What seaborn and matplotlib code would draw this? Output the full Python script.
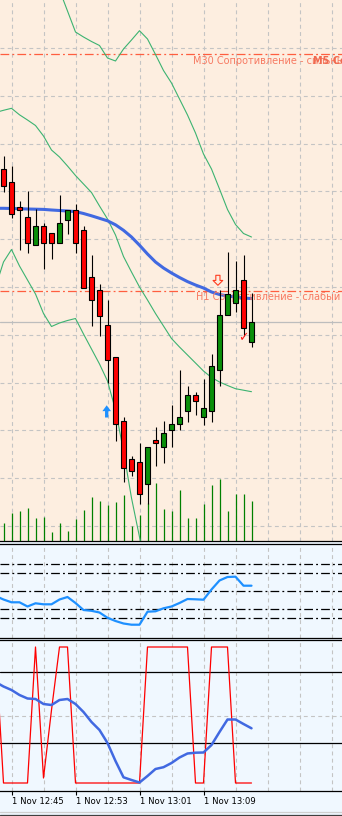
import numpy as np
import pandas as pd
import matplotlib
matplotlib.use("Agg")
import matplotlib.pyplot as plt
import seaborn as sns
from matplotlib.lines import Line2D

# ---------------- data (price scale in chart points, axis inverted) ----------------
bar_index = list(range(32))
opens = [169.3, 182.3, 207.0, 217.3, 245.3, 226.0, 233.3, 242.7, 220.3, 210.3, 230.0, 277.0,
         290.3, 325.3, 357.3, 421.3, 459.3, 462.3, 484.3, 440.0, 446.7, 430.3, 424.3, 411.3,
         395.3, 417.3, 411.3, 370.3, 315.3, 303.3, 280.3, 341.7]
closes = [185.7, 214.3, 210.3, 242.7, 226.0, 242.7, 242.7, 223.3, 210.3, 242.7, 287.7, 300.3,
          315.7, 360.3, 424.3, 468.3, 471.3, 494.3, 446.7, 443.3, 433.3, 424.3, 417.3, 395.3,
          401.3, 408.3, 366.3, 315.0, 293.7, 290.3, 328.3, 322.3]
highs = [156.0, 166.0, 201.0, 191.0, 208.7, 223.3, 233.3, 195.0, 210.3, 204.0, 226.0, 255.0,
         284.3, 300.0, 357.3, 417.3, 456.0, 443.3, 446.7, 427.3, 421.0, 405.0, 370.0, 386.0,
         392.3, 379.0, 354.0, 290.0, 252.3, 261.3, 255.3, 293.3]
lows = [191.7, 217.7, 250.0, 252.7, 245.3, 268.7, 258.7, 242.7, 233.7, 252.7, 287.7, 325.7,
        335.7, 382.7, 440.7, 481.7, 475.7, 503.7, 503.7, 465.7, 462.7, 446.7, 430.3, 421.7,
        414.7, 424.7, 421.7, 386.3, 315.3, 312.3, 335.7, 347.3]
volumes = [18.3, 28.3, 30.3, 33.0, 23.0, 24.0, 9.0, 18.3, 10.0, 22.0, 31.0, 44.0, 40.0, 36.0,
           39.0, 46.0, 15.0, 26.0, 37.7, 58.0, 32.0, 30.0, 51.0, 23.0, 23.0, 37.0, 56.0, 62.0,
           30.0, 47.0, 47.0, 40.0]

line_index = list(range(-1, 32))
ma_line = [208.3, 208.3, 208.5, 208.7, 209.0, 209.2, 209.4, 210.0, 210.5, 211.0, 211.6, 213.5,
           215.8, 218.3, 220.8, 224.8, 230.3, 237.0, 245.2, 254.0, 262.0, 268.0, 273.0, 277.5,
           281.6, 285.0, 288.0, 292.0, 294.5, 296.0, 297.0, 298.0, 298.6]
nan = np.nan
band_upper = [nan, nan, nan, nan, nan, nan, nan, -40.0, -10.0, 11.0, 32.0, 37.0, 41.5, 45.5,
              58.0, 61.0, 49.0, 40.0, 30.7, 39.0, 54.5, 70.5, 83.0, 99.0, 115.0, 133.0, 154.0,
              169.0, 189.0, 209.5, 224.5, 233.5, 237.0]
band_mid = [112.5, 110.3, 108.3, 114.8, 120.0, 125.5, 136.0, 150.0, 157.0, 166.0, 175.5, 184.0,
            192.5, 206.0, 219.0, 235.0, 256.5, 272.0, 287.0, 300.0, 313.5, 326.0, 338.5, 347.0,
            355.0, 363.0, 371.0, 377.5, 382.0, 385.5, 388.7, 390.2, 391.7]
band_lower = [287.0, 262.0, 249.5, 266.0, 280.0, 294.0, 313.5, 326.5, 323.0, 320.5, 318.5, 334.0,
              349.0, 364.0, 381.0, 410.0, 451.0, 498.0, 537.0, 575.0, nan, nan, nan, nan, nan,
              nan, nan, nan, nan, nan, nan, nan, nan]
osc1 = [596.0, 599.5, 602.3, 602.3, 606.5, 603.3, 604.3, 604.3, 599.5, 597.0, 603.0, 610.0,
        610.8, 612.5, 617.8, 621.0, 623.5, 624.7, 624.7, 611.7, 611.3, 608.3, 606.5, 603.0,
        599.0, 599.3, 599.7, 589.5, 580.5, 577.0, 576.7, 585.7, 585.7]
osc2_fast = [647, 783, 783, 783, 783, 647, 778, 710, 647, 647, 783, 783, 783, 783, 783, 783,
             783, 783, 783, 647, 647, 647, 647, 647, 647, 783, 783, 647, 647, 647, 783, 783, 783]
osc2_slow = [682.0, 686.5, 690.0, 695.0, 698.5, 699.0, 704.0, 705.0, 700.0, 699.0, 704.0, 712.0,
             722.0, 730.0, 743.0, 761.0, 777.3, 780.0, 782.5, 776.0, 769.0, 767.2, 763.0, 757.5,
             753.5, 752.7, 752.5, 745.0, 732.0, 719.5, 719.5, 724.0, 728.3]

resistance_levels = [54.0, 290.7]
resistance_labels = ["M30 Сопротивление - сильный", "H1 Сопротивление - слабый"]
bid_price = 322.3
osc1_levels = [564.3, 573.3, 591.3, 609.3, 618.3]
osc2_levels = [671.7, 743.3]
osc2_mid = 715.7
time_ticks = [1, 9, 17, 25]
time_labels = ["1 Nov 12:45", "1 Nov 12:53", "1 Nov 13:01", "1 Nov 13:09"]
buy_signal = (12.9, 417.5, 405.3)
sell_signal = (26.8, 275.3, 285.3)
check_mark = (30.0, 337.5)

# ---------------- figure ----------------
sns.set_style("white")
plt.rcParams["font.family"] = ["DejaVu Sans"]

W, H = 342, 816
fig = plt.figure(figsize=(W / 100, H / 100), dpi=100, facecolor="#F0F8FF")

def rect(top, bottom):
    return [0, (H - bottom) / H, 1, (bottom - top) / H]

bg_main = "#FDEEE0"
bg_ind = "#F0F8FF"
xlim = (-3.5 / 8, (W - 3.5) / 8)
grid_x = np.arange(1, 43, 4)
grid_kw = dict(color="#C4C4C4", lw=0.8, ls=(0, (3.5, 3)), zorder=0.5)

ax1 = fig.add_axes(rect(0, 541))
ax2 = fig.add_axes(rect(544, 637.5))
ax3 = fig.add_axes(rect(639.5, 790.5))

for ax, bg in ((ax1, bg_main), (ax2, bg_ind), (ax3, bg_ind)):
    ax.set_facecolor(bg)
    ax.set_xlim(*xlim)
    for s in ("left", "right"):
        ax.spines[s].set_visible(False)
    for s in ("top", "bottom"):
        ax.spines[s].set_color("black")
        ax.spines[s].set_linewidth(0.9)
    ax.set_yticks([])
    for gx in grid_x:
        ax.axvline(gx, **grid_kw)
ax1.spines["top"].set_visible(False)

# ---- main panel ----
ax1.set_ylim(541, 0)
ax1.set_xticks([])
for gy in 48 + 47.8 * np.arange(11):
    ax1.axhline(gy, **grid_kw)
ax1.axhline(bid_price, color="#BDBDBD", lw=0.9, zorder=0.6)

for lvl in resistance_levels:
    ax1.axhline(lvl, color="#FF5E3F", lw=0.9, ls=(0, (7, 2.5, 1.5, 2.5)), zorder=1)
ytr = ax1.get_yaxis_transform()
ax1.text(193 / W, 61.3, resistance_labels[0], transform=ytr, color="#F77A62",
         fontsize=7, va="center", ha="left", zorder=3)
ax1.text(313 / W, 61.3, "M5 Сопр", transform=ytr, color="#F06A50",
         fontsize=7, va="center", ha="left", zorder=3, fontweight="bold")
ax1.text(196 / W, 296.5, resistance_labels[1], transform=ytr, color="#F77A62",
         fontsize=7, va="center", ha="left", zorder=3)

def draw_line(ax, idx, vals, color, lw, z):
    d = pd.DataFrame({"i": idx, "v": vals}).dropna()
    sns.lineplot(data=d, x="i", y="v", ax=ax, color=color, linewidth=lw,
                 estimator=None, sort=False, legend=False, zorder=z)

draw_line(ax1, line_index, band_upper, "#3CB371", 0.8, 2)
draw_line(ax1, line_index, band_mid, "#3CB371", 0.8, 2)
draw_line(ax1, line_index, band_lower, "#3CB371", 0.8, 2)
draw_line(ax1, line_index, ma_line, "#4169E1", 2.2, 2.5)

# volumes
ax1.vlines(bar_index, 541, 541 - np.array(volumes), color="#008000", lw=0.9, zorder=1.5)

# candles
for i, o, h, l, c in zip(bar_index, opens, highs, lows, closes):
    col = "#FF0000" if c > o else "#0A8F0A"
    ax1.vlines(i, h, l, color="black", lw=0.8, zorder=4)
    ax1.bar(i, abs(c - o), bottom=min(o, c), width=0.56, color=col,
            edgecolor="black", linewidth=0.8, zorder=5)

# signals
bx, by0, by1 = buy_signal
ax1.annotate("", xy=(bx, by1), xytext=(bx, by0),
             arrowprops=dict(arrowstyle="simple,head_width=0.62,head_length=0.42,tail_width=0.24",
                             color="#1E90FF", lw=0, shrinkA=0, shrinkB=0), zorder=6)
sx, sy0, sy1 = sell_signal
ax1.annotate("", xy=(sx, sy1), xytext=(sx, sy0),
             arrowprops=dict(arrowstyle="simple,head_width=0.7,head_length=0.35,tail_width=0.3",
                             fc=bg_main, ec="#FF3B1F", lw=0.8, shrinkA=0, shrinkB=0), zorder=6)
ax1.text(check_mark[0], check_mark[1], "✓", color="#FF1A1A", fontsize=9,
         fontweight="bold", ha="center", va="center", zorder=6)

# ---- oscillator 1 ----
ax2.set_ylim(637.5, 544)
ax2.set_xticks([])
for lvl in osc1_levels:
    ax2.axhline(lvl, color="black", lw=0.9, ls=(0, (7, 2.5, 1.5, 2.5)), zorder=1)
draw_line(ax2, line_index, osc1, "#1E90FF", 1.6, 3)

# ---- oscillator 2 ----
ax3.set_ylim(790.5, 639.5)
for lvl in osc2_levels:
    ax3.axhline(lvl, color="black", lw=0.9, zorder=1)
ax3.axhline(osc2_mid, **grid_kw)
draw_line(ax3, line_index, osc2_fast, "#FF0000", 0.9, 2)
draw_line(ax3, line_index, osc2_slow, "#4169E1", 1.8, 3)
ax3.set_xticks(time_ticks)
ax3.set_xticklabels(time_labels, ha="left", fontsize=6.1)
ax3.tick_params(axis="x", direction="out", length=3, width=0.8, pad=1.5, colors="black",
                bottom=True)
ax3.set_xlabel("")
ax3.set_ylabel("")
for ax in (ax1, ax2):
    ax.set_xlabel("")
    ax.set_ylabel("")

fig.add_artist(Line2D([0, 1], [(H - 811.5) / H] * 2, transform=fig.transFigure,
                      color="#D0D0D0", lw=0.9))
fig.add_artist(Line2D([0, 1], [(H - 814.5) / H] * 2, transform=fig.transFigure,
                      color="#404040", lw=0.9))

fig.savefig("out.png", dpi=100, facecolor=fig.get_facecolor())
